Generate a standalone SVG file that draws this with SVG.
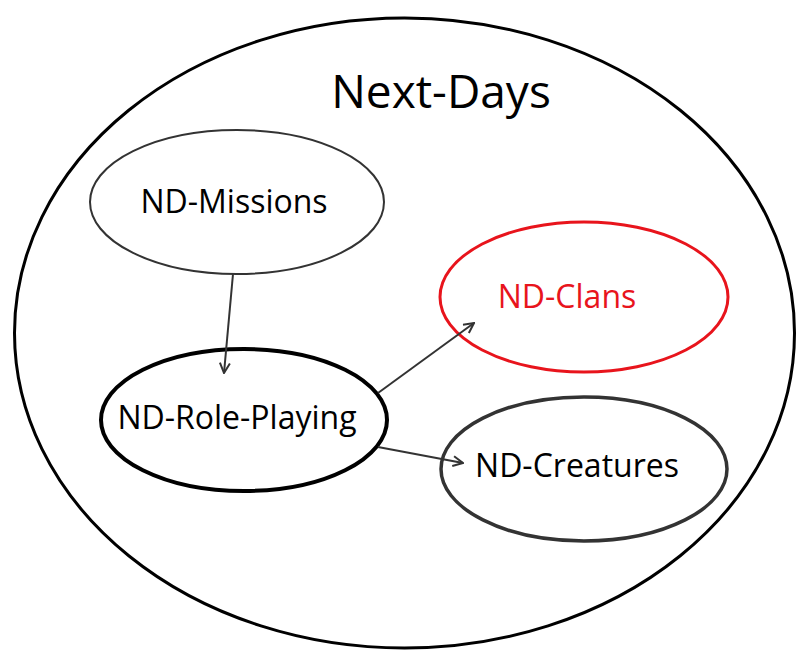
<svg xmlns="http://www.w3.org/2000/svg" width="807" height="663" viewBox="0 0 807 663">
<style>
text{font-family:"Open Sans","Noto Sans","Liberation Sans",sans-serif;text-anchor:middle;fill:#000}
.lbl{font-size:32px}
.conn{stroke:#333;stroke-width:2;fill:none;marker-end:url(#ah)}
</style>
<defs>
<marker id="ah" viewBox="0 0 12 12" refX="11" refY="6" markerWidth="12" markerHeight="12" markerUnits="userSpaceOnUse" orient="auto">
<path d="M1,1 L11,6 L1,11" fill="none" stroke="#333" stroke-width="2"/>
</marker>
</defs>
<rect width="807" height="663" fill="#fff"/>
<g id="next-days">
<ellipse cx="404.5" cy="333" rx="390" ry="315" fill="none" stroke="#000" stroke-width="3"/>
<text x="441" y="108" style="font-size:46px">Next-Days</text>
</g>
<g id="nd-missions">
<ellipse cx="237" cy="202" rx="147" ry="72" fill="none" stroke="#333" stroke-width="2"/>
<text class="lbl" x="234" y="213">ND-Missions</text>
</g>
<g id="nd-clans">
<ellipse cx="584" cy="297" rx="144" ry="75" fill="none" stroke="#e8141c" stroke-width="3"/>
<text class="lbl" x="567" y="308" style="fill:#e8141c">ND-Clans</text>
</g>
<g id="nd-role-playing">
<ellipse cx="244" cy="420" rx="143" ry="71" fill="none" stroke="#000" stroke-width="4"/>
<text class="lbl" x="237" y="429">ND-Role-Playing</text>
</g>
<g id="nd-creatures">
<ellipse cx="584" cy="469" rx="143" ry="72" fill="none" stroke="#333" stroke-width="3.5"/>
<text class="lbl" x="577" y="477">ND-Creatures</text>
</g>
<g id="connectors">
<line class="conn" x1="233" y1="274" x2="224" y2="373"/>
<line class="conn" x1="378" y1="393" x2="474" y2="323"/>
<line class="conn" x1="378" y1="447" x2="463" y2="463"/>
</g>
</svg>
